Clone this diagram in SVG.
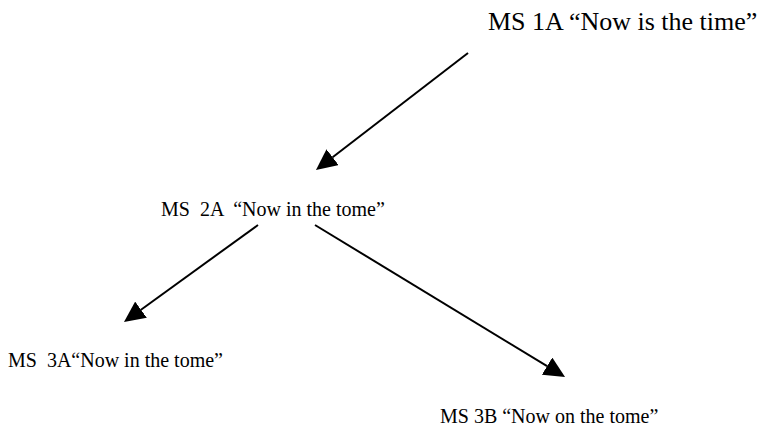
<svg xmlns="http://www.w3.org/2000/svg" width="768" height="431" viewBox="0 0 768 431">
<style>
text{font-family:"Liberation Serif","Times New Roman",serif;fill:#000;white-space:pre}
.c line{stroke:#000;stroke-width:2;marker-end:url(#ah)}
</style>
<defs>
<marker id="ah" viewBox="0 0 21 20" refX="0" refY="10" markerWidth="21" markerHeight="20" markerUnits="userSpaceOnUse" orient="auto">
<path d="M0,0 L21,10 L0,20 z" fill="#000"/>
</marker>
</defs>
<rect width="768" height="431" fill="#fff"/>
<g id="n1"><text x="488" y="30" font-size="26">MS 1A “Now is the time”</text></g>
<g id="n2"><text x="161" y="216" font-size="20" xml:space="preserve">MS  2A  “Now in the tome”</text></g>
<g id="n3"><text x="8" y="367" font-size="20" xml:space="preserve">MS  3A“Now in the tome”</text></g>
<g id="n4"><text x="440" y="423" font-size="20">MS 3B “Now on the tome”</text></g>
<g class="c" id="connectors">
<line x1="468" y1="53" x2="332.6" y2="157.2"/>
<line x1="258" y1="225" x2="141" y2="309.7"/>
<line x1="315" y1="225" x2="547.1" y2="366.1"/>
</g>
</svg>
